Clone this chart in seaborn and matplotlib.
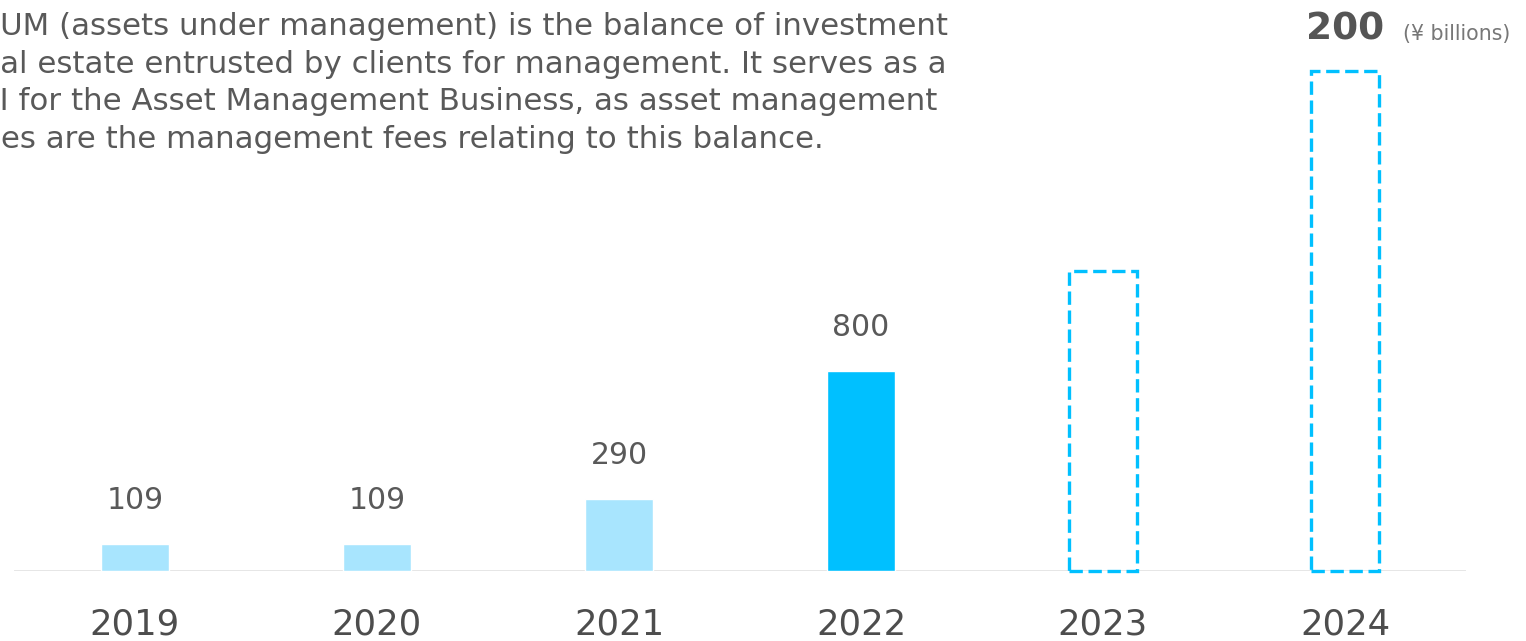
import matplotlib
matplotlib.use("Agg")
import matplotlib.pyplot as plt
import seaborn as sns
import pandas as pd

# data
years = ["2019", "2020", "2021", "2022", "2023", "2024"]
aum = [109, 109, 290, 800, 1200, 2000]
value_labels = ["109", "109", "290", "800", "", "200"]
bar_colors = ["#a8e5fe", "#a8e5fe", "#a8e5fe", "#00c0ff", "#00c0ff", "#00c0ff"]
planned = [False, False, False, False, True, True]

unit_label = "(¥ billions)"
note_lines = [
    "AUM (assets under management) is the balance of investment",
    "real estate entrusted by clients for management. It serves as a",
    "KPI for the Asset Management Business, as asset management",
    "fees are the management fees relating to this balance.",
]

W, H, DPI = 1526, 641, 100
TXT = "#595959"
NOTE_SIZE = 22.2

sns.set_theme(style="white")
plt.rcParams["font.family"] = ["DejaVu Sans"]

df = pd.DataFrame({"year": years, "aum": aum})

fig = plt.figure(figsize=(W / DPI, H / DPI), dpi=DPI)
ax = fig.add_axes([14 / W, 70 / H, 1452 / W, 550 / H])

sns.barplot(data=df, x="year", y="aum", hue="year", palette=bar_colors,
            legend=False, width=0.277, saturation=1, ax=ax, zorder=2)

# planned years drawn as dashed outlines
for patch, dashed, col in zip(ax.patches, planned, bar_colors):
    if dashed:
        patch.set_facecolor("none")
        patch.set_edgecolor(col)
        patch.set_linewidth(2.4)
        patch.set_linestyle((0, (4, 1.7)))
        patch.set_clip_on(False)

ax.axhline(0, color="#e3e3e3", lw=2, zorder=1)
ax.set_ylim(0, 2200)
ax.set_xlim(-0.5, len(years) - 0.5)

for i, (v, lab) in enumerate(zip(aum, value_labels)):
    if not lab:
        continue
    if i == len(years) - 1:
        ax.annotate(lab, (i, v), xytext=(0, 30), textcoords="offset points",
                    ha="center", va="center", fontsize=27, fontweight="bold",
                    color="#555555", annotation_clip=False)
        ax.annotate(unit_label, (i, v), xytext=(42, 26.5), textcoords="offset points",
                    ha="left", va="center", fontsize=14.8, color="#777777",
                    annotation_clip=False)
    else:
        ax.annotate(lab, (i, v), xytext=(0, 31), textcoords="offset points",
                    ha="center", va="center", fontsize=21.5, color=TXT)

ax.set_xlabel("")
ax.set_ylabel("")
ax.set_yticks([])
ax.tick_params(axis="x", length=0, pad=26, labelsize=25.6, labelcolor="#4d4d4d")
sns.despine(ax=ax, left=True, bottom=True)

# explanatory note, its first letters run off the left edge
x_start = [-21, -31, -39, -29]
baselines = [35, 73, 110, 148]
for line, x0, yb in zip(note_lines, x_start, baselines):
    fig.text(x0 / W, 1 - yb / H, line, fontsize=NOTE_SIZE, color=TXT,
             ha="left", va="baseline")

fig.savefig("out.png", dpi=DPI)
